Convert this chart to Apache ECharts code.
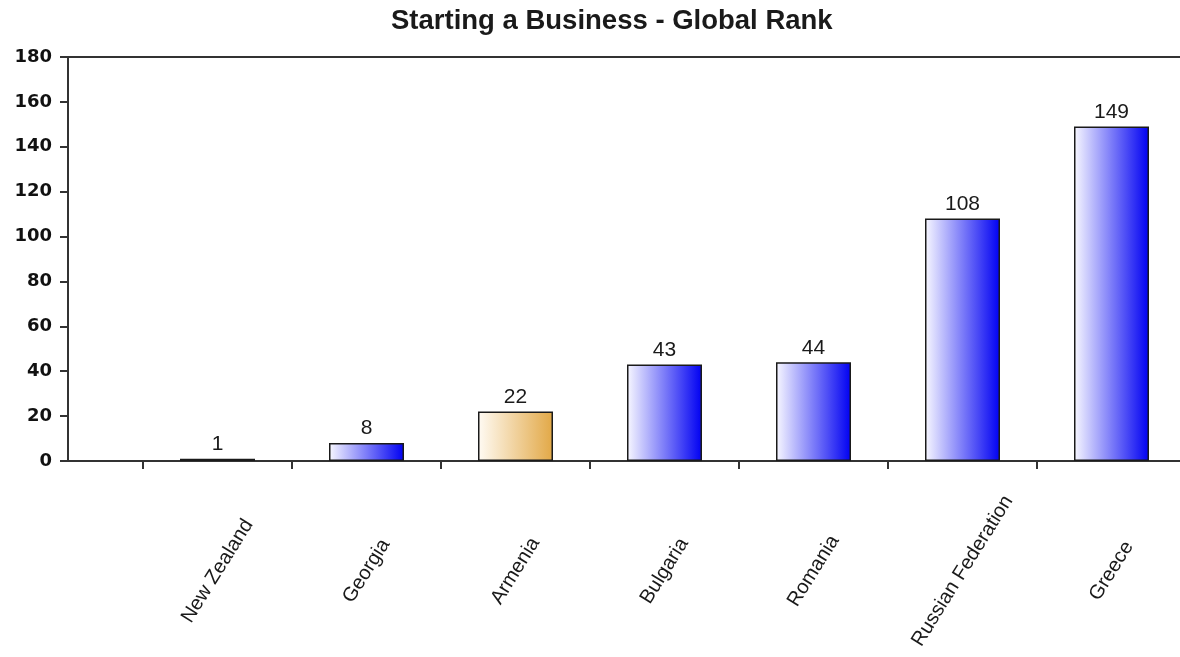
<!DOCTYPE html>
<html>
<head>
<meta charset="utf-8">
<script src="https://cdn.jsdelivr.net/npm/echarts@6/dist/echarts.min.js"></script>
<style>
html, body { margin: 0; padding: 0; background: #fff; }
#chart { width: 1180px; height: 657px; }
</style>
</head>
<body>
<div id="chart"></div>
<script>
const countries = ['New Zealand', 'Georgia', 'Armenia', 'Bulgaria', 'Romania', 'Russian Federation', 'Greece'];
const ranks = [1, 8, 22, 43, 44, 108, 149];
const highlighted = ['Armenia'];
const yTicks = { min: 0, max: 180, interval: 20 };

const blueFill = new echarts.graphic.LinearGradient(0, 0, 1, 0, [
    { offset: 0, color: '#f8f8ff' },
    { offset: 1, color: '#0000f2' }
]);
const goldFill = new echarts.graphic.LinearGradient(0, 0, 1, 0, [
    { offset: 0, color: '#fffbf4' },
    { offset: 1, color: '#e2a846' }
]);

const chart = echarts.init(document.getElementById('chart'));
chart.setOption({
    animation: false,
    title: {
        text: 'Starting a Business - Global Rank',
        left: 391,
        top: 7,
        padding: 0,
        textStyle: {
            fontFamily: 'Liberation Sans',
            fontSize: 27.5,
            fontWeight: 'bold',
            color: '#1a1a1a'
        }
    },
    // grid 0 holds the axis frame, grid 1 holds the bars (shifted half a category)
    grid: [
        { left: 68, width: 1118, top: 57, bottom: 196, outerBoundsMode: 'none', containLabel: false,
          show: true, borderColor: '#333', borderWidth: 2 },
        { left: 143, width: 1043, top: 57, bottom: 196, outerBoundsMode: 'none', containLabel: false }
    ],
    xAxis: [
        {
            gridIndex: 0, type: 'value', min: 0, max: 1,
            axisLine: { show: false }, axisTick: { show: false },
            axisLabel: { show: false }, splitLine: { show: false }
        },
        {
            gridIndex: 1, type: 'category', data: countries,
            axisLine: { show: false },
            axisTick: { show: true, length: 8, lineStyle: { color: '#333', width: 2 } },
            axisLabel: {
                rotate: 58,
                align: 'center',
                verticalAlign: 'middle',
                margin: 110,
                fontFamily: 'Liberation Sans',
                fontSize: 20,
                color: '#1a1a1a'
            }
        }
    ],
    yAxis: [
        {
            gridIndex: 0, type: 'value',
            min: yTicks.min, max: yTicks.max, interval: yTicks.interval,
            axisLine: { show: true, lineStyle: { color: '#333', width: 2 } },
            axisTick: { show: true, length: 8, lineStyle: { color: '#333', width: 2 } },
            axisLabel: {
                margin: 16,
                fontFamily: 'DejaVu Sans',
                fontWeight: 'bold',
                fontSize: 18,
                color: '#111'
            },
            splitLine: { show: false }
        },
        {
            gridIndex: 1, type: 'value',
            min: yTicks.min, max: yTicks.max, show: false
        }
    ],
    series: [
        {
            type: 'bar',
            xAxisIndex: 1,
            yAxisIndex: 1,
            barWidth: 75,
            data: ranks.map((v, i) => ({
                value: v,
                itemStyle: {
                    color: highlighted.includes(countries[i]) ? goldFill : blueFill,
                    borderColor: '#1a1a1a',
                    borderWidth: 1.5
                }
            })),
            label: {
                show: true,
                position: 'top',
                distance: 4,
                fontFamily: 'Liberation Sans',
                fontSize: 21,
                color: '#1a1a1a'
            }
        }
    ]
});
</script>
</body>
</html>
